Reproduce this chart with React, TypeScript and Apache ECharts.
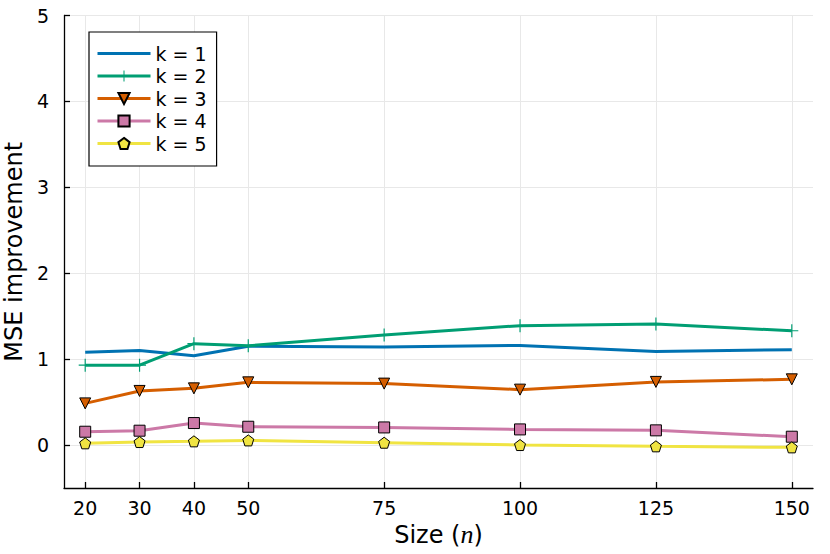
import React, { useEffect, useRef } from "react";
import * as echarts from "echarts";

const sizes = [20, 30, 40, 50, 75, 100, 125, 150];
const k1 = [1.08, 1.1, 1.04, 1.15, 1.14, 1.16, 1.09, 1.11];
const k2 = [0.93, 0.93, 1.18, 1.155, 1.28, 1.39, 1.41, 1.33];
const k3 = [0.485, 0.63, 0.66, 0.73, 0.715, 0.645, 0.735, 0.765];
const k4 = [0.155, 0.167, 0.256, 0.213, 0.205, 0.182, 0.171, 0.097];
const k5 = [0.02, 0.035, 0.043, 0.054, 0.027, 0.0, -0.015, -0.027];
const yTicks = [0, 1, 2, 3, 4, 5];
const seriesNames = ["k = 1", "k = 2", "k = 3", "k = 4", "k = 5"];
const colors = ["#0072B2", "#009E73", "#D55E00", "#CC79A7", "#F0E442"];

const PLUS = "path://M-1,-0.09L1,-0.09L1,0.09L-1,0.09Z M-0.09,-1L0.09,-1L0.09,1L-0.09,1Z";
const DTRI = "path://M-1,-0.87L1,-0.87L0,0.87Z";
const PENT = "path://M0,-1L0.951,-0.309L0.588,0.809L-0.588,0.809L-0.951,-0.309Z";
const LINE_ICON =
  "path://M0,0L0.01,0L0.01,0.01Z M0,5.5L53,5.5L53,8.5L0,8.5Z M52.99,14L53,14L53,13.99Z";

export default function App() {
  const ref = useRef<HTMLDivElement>(null);
  useEffect(() => {
    if (!ref.current) return;
    const chart = echarts.init(ref.current, null, { renderer: "svg" });
    const font = "DejaVu Sans";
    const all = [k1, k2, k3, k4, k5];
    const symbols = ["none", PLUS, DTRI, "rect", PENT];
    const symSizes = [0, 13, 11, 11, 11];
    const series = all.map((vals, i) => ({
      name: seriesNames[i],
      type: "line",
      data: sizes.map((x, j) => [x, vals[j]]),
      symbol: symbols[i],
      symbolSize: symSizes[i],
      showSymbol: i !== 0,
      lineStyle: { color: colors[i], width: 3 },
      itemStyle: {
        color: colors[i],
        borderColor: i <= 1 ? colors[i] : "#000",
        borderWidth: i <= 1 ? 0 : 1,
      },
      emphasis: { disabled: true },
      z: 2 + i,
    }));
    chart.setOption({
      animation: false,
      backgroundColor: "#fff",
      color: colors,
      grid: { left: 64, right: 17, top: 15.5, bottom: 66, outerBoundsMode: "none", containLabel: false },
      legend: {
        orient: "vertical",
        left: 89,
        top: 32,
        padding: [12, 10, 13, 7],
        itemWidth: 53,
        itemHeight: 14,
        itemGap: 3.5,
        borderColor: "#000",
        borderWidth: 1.2,
        borderRadius: 0,
        backgroundColor: "#fff",
        lineStyle: { width: 3 },
        textStyle: { fontFamily: font, fontSize: 19, color: "#000" },
        data: [
          { name: seriesNames[0], icon: LINE_ICON },
          seriesNames[1],
          seriesNames[2],
          seriesNames[3],
          seriesNames[4],
        ],
      },
      xAxis: {
        type: "value",
        min: 16.1,
        max: 153.9,
        name: "{a|Size (}{b|n}{a|)}",
        nameLocation: "middle",
        nameGap: 23,
        nameTextStyle: {
          rich: {
            a: { fontFamily: font, fontSize: 24, color: "#000" },
            b: { fontFamily: "Liberation Serif", fontStyle: "italic", fontSize: 26, color: "#000" },
          },
        },
        axisLine: { show: true, onZero: false, lineStyle: { color: "#000", width: 1.3 } },
        axisTick: { show: true, inside: true, length: 6, customValues: sizes, lineStyle: { color: "#000", width: 1.3 } },
        axisLabel: { customValues: sizes, fontFamily: font, fontSize: 19, color: "#000", margin: 10 },
        splitLine: { show: true, lineStyle: { color: "#e8e8e8", width: 1 } },
      },
      yAxis: {
        type: "value",
        min: -0.5,
        max: 5,
        name: "MSE improvement",
        nameLocation: "middle",
        nameGap: 34,
        nameTextStyle: { fontFamily: font, fontSize: 24, color: "#000" },
        axisLine: { show: true, onZero: false, lineStyle: { color: "#000", width: 1.3 } },
        axisTick: { show: true, inside: true, length: 6, customValues: yTicks, lineStyle: { color: "#000", width: 1.3 } },
        axisLabel: { customValues: yTicks, fontFamily: font, fontSize: 19, color: "#000", margin: 15 },
        splitLine: { show: true, lineStyle: { color: "#e8e8e8", width: 1 } },
      },
      series,
    });
    return () => chart.dispose();
  }, []);
  return (
    <div
      ref={ref}
      style={{ position: "fixed", left: 0, top: 0, width: 830, height: 554 }}
    />
  );
}
